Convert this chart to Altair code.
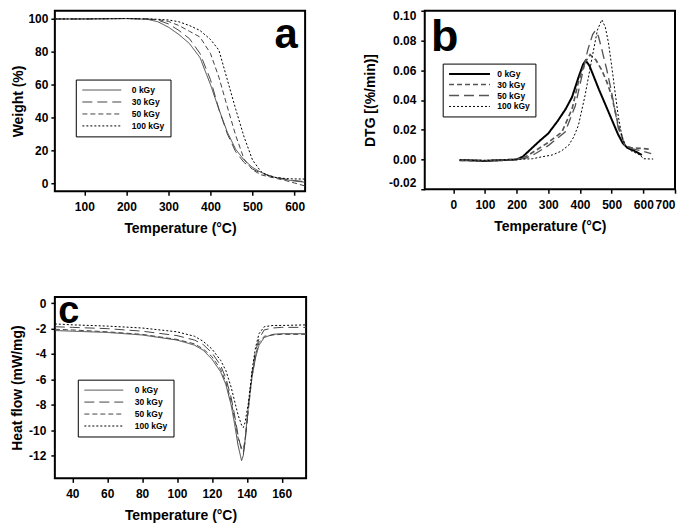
import altair as alt
import pandas as pd

FONT = "Liberation Sans"
series = ["0 kGy", "30 kGy", "50 kGy", "100 kGy"]

# ---- panel a: TGA weight (%) ----
a_temp = [30, 100, 200, 250, 275, 300, 325, 350, 375, 400, 420, 440, 460, 480, 500, 520, 540, 560, 580, 600, 625]
a_0 = [100, 100, 100.2, 99.8, 98.3, 95, 90.5, 85, 76.5, 60, 45, 31, 20.5, 14, 9.5, 6.5, 4.5, 3, 2, 1.2, 0.5]
a_30 = [100, 100, 100.3, 100, 99.3, 97, 93, 88, 79, 63, 45, 30, 19, 12.5, 8.5, 6, 4.5, 3.3, 2.3, 1.5, 0.8]
a_50 = [100, 100, 100.3, 100, 99.6, 98.5, 96, 92.5, 89, 79, 64.5, 46.5, 29, 14.5, 8, 5, 3.8, 2.6, 1.4, 0, -1.8]
a_100 = [100, 100, 100.3, 100, 99.8, 99.4, 98.3, 96, 93, 87.5, 81, 63, 45, 28, 14, 7, 4, 3.2, 2.7, 2.5, 2.4]

# ---- panel b: DTG ----
b_t0 = [20, 50, 100, 150, 200, 220, 240, 270, 300, 330, 355, 375, 395, 410, 418, 430, 445, 460, 480, 500, 520, 535, 550, 570, 595]
b_0 = [-0.0005, -0.0006, -0.001, -0.0005, 0.0, 0.002, 0.006, 0.012, 0.0175, 0.026, 0.034, 0.042, 0.055, 0.064, 0.0665, 0.063, 0.055, 0.047, 0.037, 0.027, 0.017, 0.011, 0.0078, 0.006, 0.003]
b_t30 = [20, 50, 100, 150, 200, 230, 260, 300, 343, 375, 395, 415, 432, 450, 469, 485, 500, 521, 542, 560, 590, 625]
b_30 = [-0.0005, -0.0006, -0.0008, -0.0004, 0.0, 0.002, 0.006, 0.0115, 0.0185, 0.034, 0.052, 0.065, 0.0705, 0.067, 0.06, 0.052, 0.043, 0.023, 0.0095, 0.008, 0.0075, 0.0068]
b_t50 = [20, 50, 100, 150, 200, 230, 260, 301, 353, 385, 406, 425, 440, 448, 458, 469, 485, 500, 521, 542, 560, 590, 625]
b_50 = [-0.0005, -0.0005, -0.0008, -0.0004, 0.0, 0.001, 0.004, 0.0095, 0.0185, 0.036, 0.056, 0.074, 0.084, 0.0865, 0.083, 0.074, 0.06, 0.045, 0.021, 0.0095, 0.0075, 0.006, 0.004]
b_t100 = [20, 50, 100, 150, 200, 250, 280, 312, 340, 364, 380, 395, 416, 437, 455, 469, 480, 490, 500, 511, 521, 532, 542, 560, 590, 600, 631]
b_100 = [-0.0003, -0.0004, -0.0006, -0.0003, 0.0, 0.0005, 0.0018, 0.003, 0.0055, 0.0095, 0.015, 0.0229, 0.043, 0.067, 0.087, 0.094, 0.089, 0.0784, 0.063, 0.045, 0.029, 0.0162, 0.0095, 0.006, 0.003, 0.0005, 0.0003]

# ---- panel c: DSC heat flow ----
c_temp = [30, 40, 60, 80, 100, 110, 115, 120, 125, 128, 131, 133, 135, 137, 138, 139, 141, 143, 145, 147, 150, 155, 160, 175]
c_0 = [-2.15, -2.2, -2.3, -2.5, -2.9, -3.3, -3.7, -4.4, -5.4, -6.4, -8.0, -9.5, -11.2, -12.4, -12.0, -10.8, -8.0, -5.8, -4.3, -3.3, -2.7, -2.45, -2.4, -2.4]
c_30 = [-1.85, -1.9, -2.0, -2.2, -2.55, -2.9, -3.25, -3.9, -4.9, -5.9, -7.4, -8.8, -10.4, -11.6, -11.8, -11.0, -8.0, -5.5, -3.8, -2.8, -2.1, -1.95, -1.9, -1.9]
c_50 = [-2.05, -2.1, -2.25, -2.45, -2.85, -3.2, -3.6, -4.2, -5.2, -6.2, -7.7, -9.1, -10.6, -11.4, -11.5, -10.8, -8.3, -5.8, -4.1, -3.1, -2.6, -2.5, -2.45, -2.45]
c_100 = [-1.63, -1.7, -1.8, -1.95, -2.25, -2.6, -3.0, -3.6, -4.5, -5.3, -6.6, -7.7, -8.8, -9.6, -9.8, -9.4, -7.8, -5.3, -3.5, -2.4, -1.85, -1.75, -1.75, -1.7]


def long_df(pairs):
    rows = []
    for name, xs, ys in pairs:
        for i, (xv, yv) in enumerate(zip(xs, ys)):
            rows.append({"series": name, "x": xv, "y": yv, "order": i})
    return pd.DataFrame(rows)


df_a = long_df([("0 kGy", a_temp, a_0), ("30 kGy", a_temp, a_30),
                ("50 kGy", a_temp, a_50), ("100 kGy", a_temp, a_100)])
df_b = long_df([("0 kGy", b_t0, b_0), ("30 kGy", b_t30, b_30),
                ("50 kGy", b_t50, b_50), ("100 kGy", b_t100, b_100)])
df_c = long_df([("0 kGy", c_temp, c_0), ("30 kGy", c_temp, c_30),
                ("50 kGy", c_temp, c_50), ("100 kGy", c_temp, c_100)])

LONG = [10, 5]
SHORT = [5, 3]
DOT = [2, 2]
SOLID = [1, 0]

# legend symbol: a horizontal stroke drawn from the symbol origin to the right
SYM_PATH = "M-1,0H9"


def panel(df, xdomain, xvals, ytitle, ydomain, yvals, yexpr, dashes, widths, colors,
          leg_xy, letter, letter_xy, letter_size, w, h, ytitle_pad, ylabel_pad,
          yflush=False, leg_pad=6, leg_symbol=39, leg_gap=10, leg_row=3):
    unit = leg_symbol / 5.0
    legend = alt.Legend(
        title=None, orient="none", legendX=leg_xy[0], legendY=leg_xy[1],
        strokeColor="black", fillColor="white", padding=leg_pad,
        labelFont=FONT, labelFontSize=8.5, labelFontWeight="bold", labelColor="black",
        symbolType=SYM_PATH, symbolSize=unit * unit,
        labelOffset=leg_symbol - unit + leg_gap, rowPadding=leg_row,
    )
    lines = alt.Chart(df).mark_line(clip=True).encode(
        x=alt.X("x:Q", scale=alt.Scale(domain=xdomain, nice=False, zero=False),
                axis=alt.Axis(values=xvals, title="Temperature (°C)", labelPadding=6,
                              titlePadding=9)),
        y=alt.Y("y:Q", scale=alt.Scale(domain=ydomain, nice=False, zero=False),
                axis=alt.Axis(values=yvals, title=ytitle, labelExpr=yexpr,
                              labelPadding=ylabel_pad, titlePadding=ytitle_pad,
                              labelFlush=yflush)),
        strokeDash=alt.StrokeDash("series:N", sort=series,
                                  scale=alt.Scale(domain=series, range=dashes), legend=legend),
        strokeWidth=alt.StrokeWidth("series:N", sort=series,
                                    scale=alt.Scale(domain=series, range=widths), legend=legend),
        color=alt.Color("series:N", sort=series,
                        scale=alt.Scale(domain=series, range=colors), legend=legend),
        order="order:Q",
    )
    txt = alt.Chart(pd.DataFrame({"label": [letter]})).mark_text(
        font=FONT, fontSize=letter_size, fontWeight="bold", color="black",
        align="center", baseline="alphabetic",
    ).encode(x=alt.value(letter_xy[0]), y=alt.value(letter_xy[1]), text="label:N")
    return alt.layer(lines, txt).properties(width=w, height=h)


minus_fix = "replace(toString(datum.value), '\u2212', '-')"
fmt2 = "replace(format(datum.value, '.2f'), '\u2212', '-')"

chart_a = panel(df_a, [30, 625], [100, 200, 300, 400, 500, 600], "Weight (%)",
                [-5, 105], [0, 20, 40, 60, 80, 100], minus_fix,
                [SOLID, LONG, SHORT, DOT], [1, 1, 1, 2.5], ["#444", "#444", "#444", "black"],
                (21, 69), "a", (232, 37), 42, 251, 181, 2, 3)

chart_b = panel(df_b, [-90, 700], [0, 100, 200, 300, 400, 500, 600, 700], "DTG [(%/min)]",
                [-0.02, 0.10], [-0.02, 0.0, 0.02, 0.04, 0.06, 0.08, 0.10], fmt2,
                [SOLID, SHORT, LONG, DOT], [2, 1, 1, 2.5], ["black", "#555", "#555", "black"],
                (18, 53), "b", (20, 40), 45, 251, 179, 11, 5, yflush=True,
                leg_pad=5, leg_symbol=41, leg_gap=6, leg_row=1.0)

chart_c = panel(df_c, [30, 174], [40, 60, 80, 100, 120, 140, 160], "Heat flow (mW/mg)",
                [-13.8, 0.5], [0, -2, -4, -6, -8, -10, -12], minus_fix,
                [SOLID, LONG, SHORT, DOT], [1, 1, 1, 2.5], ["#444", "#444", "#444", "black"],
                (23, 83), "c", (14, 26), 38, 252, 182, 4, 5,
                leg_pad=6, leg_symbol=39, leg_gap=11)

chart = alt.concat(
    chart_a, chart_b, chart_c, columns=2, bounds="flush",
    spacing={"row": 106, "column": 119},
).resolve_scale(
    color="independent", strokeDash="independent", strokeWidth="independent"
).resolve_legend(
    color="independent", strokeDash="independent", strokeWidth="independent"
).properties(
    padding={"left": 1, "top": 0, "right": 0, "bottom": 0}
).configure_view(
    stroke="black", strokeWidth=2
).configure_axis(
    grid=False, domain=False, tickColor="black", tickWidth=1.5, tickSize=4,
    labelFont=FONT, labelFontSize=12, labelFontWeight="bold", labelColor="black",
    titleFont=FONT, titleFontSize=14, titleFontWeight="bold", titleColor="black",
)

chart.save("out.html", embed_options={"renderer": "svg", "actions": False})
